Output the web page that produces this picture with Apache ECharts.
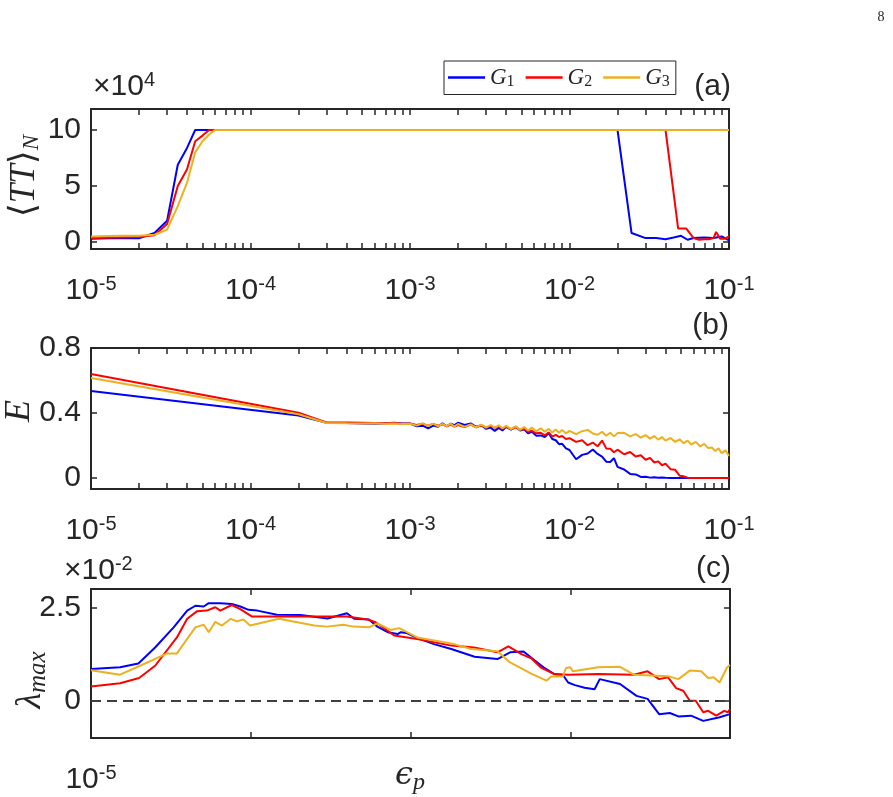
<!DOCTYPE html>
<html>
<head>
<meta charset="utf-8">
<script src="https://cdn.jsdelivr.net/npm/echarts@6/dist/echarts.min.js"></script>
<style>html,body{margin:0;padding:0;background:#fff;}#c{width:893px;height:797px;}</style>
</head>
<body>
<div id="c"></div>
<script>
// ---------------- DATA ----------------
const seriesNames = ['G1', 'G2', 'G3'];
const seriesColors = ['#0000FF', '#FF0000', '#EDB120'];

// tick values / labels
const decadeTicks = [1e-5, 1e-4, 1e-3, 1e-2, 1e-1];
const logMinorTicks = [1e-5,2e-5,3e-5,4e-5,5e-5,6e-5,7e-5,8e-5,9e-5,
  1e-4,2e-4,3e-4,4e-4,5e-4,6e-4,7e-4,8e-4,9e-4,
  1e-3,2e-3,3e-3,4e-3,5e-3,6e-3,7e-3,8e-3,9e-3,
  1e-2,2e-2,3e-2,4e-2,5e-2,6e-2,7e-2,8e-2,9e-2,1e-1];
const xLabelsC = [1e-5];
const yTicksA = [0, 5, 10];
const yTicksB = [0, 0.4, 0.8];
const yTicksC = [0, 2.5];

// Panel (a): <TT>_N  (units of 10^4)
const epsA_G1 = [1e-5,1.5e-5,2e-5,2.5e-5,3e-5,3.5e-5,4e-5,4.5e-5,1e-4,1e-3,1e-2,2e-2,2.45e-2,3e-2,3.5e-2,4e-2,4.5e-2,5e-2,5.5e-2,6e-2,7e-2,8e-2,9e-2,1e-1];
const tt_G1   = [0.3,0.35,0.33,0.8,1.9,6.9,8.4,10,10,10,10,10,0.8,0.35,0.35,0.25,0.4,0.55,0.2,0.35,0.4,0.35,0.5,0.15];
const epsA_G2 = [1e-5,1.5e-5,2e-5,2.5e-5,3e-5,3.5e-5,4e-5,4.5e-5,5e-5,5.5e-5,1e-4,1e-3,1e-2,4e-2,4.8e-2,5.4e-2,6e-2,6.5e-2,7e-2,7.5e-2,8e-2,8.3e-2,8.8e-2,9.4e-2,1e-1];
const tt_G2   = [0.35,0.4,0.45,0.6,1.6,5.0,6.5,9.0,9.5,10,10,10,10,10,1.2,1.2,0.35,0.2,0.25,0.25,0.35,0.9,0.3,0.3,0.5];
const epsA_G3 = [1e-5,1.5e-5,2e-5,2.5e-5,3e-5,3.5e-5,4e-5,4.5e-5,5e-5,5.5e-5,6e-5,1e-4,1e-3,1e-2,1e-1];
const tt_G3   = [0.5,0.55,0.55,0.65,1.1,3.2,5.3,8.0,9.0,9.6,10,10,10,10,10];

// Panel (b): E
const epsB = [1e-5,2e-4,3e-4,4e-4,5e-4,6e-4,7e-4,8e-4,9e-4,
  1.0e-3,1.1e-3,1.2e-3,1.3e-3,1.4e-3,1.5e-3,1.6e-3,1.7e-3,1.8e-3,1.9e-3,2.0e-3,2.2e-3,2.4e-3,2.6e-3,2.8e-3,3.0e-3,3.2e-3,3.4e-3,3.6e-3,3.8e-3,4.0e-3,4.3e-3,4.6e-3,4.9e-3,5.2e-3,5.5e-3,5.8e-3,6.2e-3,6.6e-3,7.0e-3,7.4e-3,7.8e-3,8.2e-3,8.6e-3,9.0e-3,9.5e-3,
  1.0e-2,1.1e-2,1.2e-2,1.3e-2,1.4e-2,1.5e-2,1.6e-2,1.7e-2,1.8e-2,1.9e-2,2.0e-2,2.2e-2,2.4e-2,2.6e-2,2.8e-2,3.0e-2,3.2e-2,3.4e-2,3.6e-2,3.8e-2,4.0e-2,4.3e-2,4.6e-2,4.9e-2,5.2e-2,5.5e-2,5.8e-2,6.2e-2,6.6e-2,7.0e-2,7.4e-2,7.8e-2,8.2e-2,8.6e-2,9.0e-2,9.5e-2,1.0e-1];
const E_G1 = [0.535,0.385,0.34,0.338,0.335,0.333,0.337,0.34,0.335,
  0.335,0.318,0.322,0.305,0.322,0.315,0.336,0.318,0.334,0.325,0.34,0.326,0.336,0.315,0.324,0.302,0.31,0.29,0.308,0.292,0.315,0.298,0.316,0.292,0.3,0.274,0.284,0.26,0.262,0.252,0.275,0.24,0.232,0.208,0.21,0.182,
  0.172,0.115,0.142,0.15,0.175,0.148,0.132,0.1,0.098,0.122,0.068,0.052,0.025,0.022,0.006,0.008,0.002,0.005,0.001,0.003,0.001,0,0,0,0,0,0,0,0,0,0,0,0,0,0,0,0];
const E_G2 = [0.64,0.402,0.342,0.342,0.34,0.338,0.336,0.338,0.333,
  0.336,0.326,0.334,0.322,0.332,0.322,0.33,0.318,0.328,0.316,0.326,0.314,0.328,0.312,0.324,0.31,0.322,0.308,0.318,0.304,0.316,0.3,0.312,0.298,0.302,0.285,0.29,0.275,0.278,0.262,0.28,0.255,0.265,0.252,0.258,0.24,
  0.245,0.222,0.232,0.202,0.218,0.195,0.23,0.182,0.18,0.158,0.174,0.146,0.16,0.132,0.14,0.112,0.124,0.095,0.102,0.078,0.088,0.054,0.05,0.014,0.01,0.002,0,0,0,0,0,0,0,0,0,0,0];
const E_G3 = [0.615,0.392,0.338,0.336,0.335,0.336,0.334,0.335,0.332,
  0.334,0.322,0.336,0.32,0.334,0.318,0.333,0.318,0.334,0.316,0.332,0.314,0.33,0.312,0.328,0.31,0.326,0.308,0.324,0.304,0.322,0.3,0.318,0.296,0.314,0.292,0.31,0.288,0.306,0.284,0.302,0.28,0.298,0.278,0.296,0.274,
  0.29,0.27,0.288,0.296,0.274,0.266,0.284,0.26,0.278,0.256,0.276,0.278,0.256,0.27,0.248,0.264,0.242,0.258,0.236,0.252,0.23,0.246,0.222,0.238,0.214,0.23,0.206,0.222,0.194,0.21,0.184,0.188,0.166,0.182,0.152,0.17,0.135];

// Panel (c): lambda_max (units of 10^-2)
const epsC_G1 = [1e-5,1.52e-5,1.98e-5,2.52e-5,3.29e-5,4e-5,4.5e-5,5.07e-5,5.46e-5,6.45e-5,7.6e-5,8.6e-5,9.7e-5,1.1e-4,1.46e-4,2.05e-4,3.02e-4,4e-4,4.44e-4,5.5e-4,6.2e-4,7.2e-4,8.3e-4,8.7e-4,9.4e-4,1.1e-3,1.4e-3,1.8e-3,2.52e-3,3.5e-3,4.2e-3,5.1e-3,6e-3,6.8e-3,7.9e-3,9e-3,9.7e-3,1.07e-2,1.23e-2,1.42e-2,1.53e-2,2.05e-2,2.6e-2,3.05e-2,3.6e-2,4.2e-2,4.75e-2,5.7e-2,6.8e-2,8.5e-2,1e-1];
const lam_G1  = [0.85,0.9,1.0,1.43,1.97,2.42,2.55,2.53,2.62,2.62,2.6,2.53,2.44,2.42,2.31,2.3,2.21,2.35,2.2,2.18,1.99,1.84,1.79,1.84,1.82,1.69,1.52,1.39,1.18,1.12,1.30,1.32,1.08,0.90,0.72,0.69,0.49,0.42,0.35,0.31,0.58,0.45,0.13,0.05,-0.36,-0.33,-0.42,-0.40,-0.54,-0.45,-0.36];
const epsC_G2 = [1e-5,1.52e-5,2e-5,2.52e-5,3.45e-5,4e-5,4.6e-5,5.3e-5,6e-5,6.45e-5,7.6e-5,8.6e-5,1.02e-4,4e-4,5.4e-4,6.1e-4,7.9e-4,1.1e-3,1.8e-3,2.5e-3,3.5e-3,4.1e-3,4.95e-3,5.7e-3,6.6e-3,7.9e-3,9.7e-3,1.5e-2,2.5e-2,3.05e-2,3.6e-2,4.1e-2,4.6e-2,5.1e-2,5.6e-2,6.1e-2,6.8e-2,7.3e-2,8.2e-2,9.2e-2,9.7e-2,1e-1];
const lam_G2  = [0.38,0.47,0.61,0.94,1.70,2.20,2.40,2.42,2.51,2.42,2.57,2.46,2.26,2.26,2.18,2.10,1.75,1.66,1.48,1.43,1.30,1.46,1.25,1.14,0.88,0.72,0.70,0.72,0.70,0.79,0.58,0.63,0.34,0.27,0.0,0.0,-0.31,-0.27,-0.40,-0.27,-0.31,-0.22];
const epsC_G3 = [1e-5,1.52e-5,2.03e-5,3e-5,3.45e-5,4.5e-5,5.07e-5,5.46e-5,6e-5,6.6e-5,7.5e-5,8.2e-5,9e-5,9.9e-5,1.5e-4,2.5e-4,3e-4,3.8e-4,4.4e-4,5.5e-4,6.2e-4,7.5e-4,8.5e-4,1.1e-3,1.8e-3,2.4e-3,3.5e-3,4.2e-3,5.7e-3,7.1e-3,7.6e-3,9e-3,9.4e-3,1e-2,1.04e-2,1.5e-2,2.05e-2,2.5e-2,4.1e-2,4.75e-2,5.6e-2,6.6e-2,7.3e-2,7.9e-2,8.6e-2,9.6e-2,1e-1];
const lam_G3  = [0.82,0.70,0.94,1.27,1.27,1.97,2.04,1.84,2.12,2.02,2.20,2.13,2.18,2.02,2.20,2.02,1.99,2.04,1.99,1.97,2.08,1.90,1.95,1.70,1.54,1.39,1.33,1.03,0.73,0.54,0.65,0.65,0.88,0.90,0.79,0.90,0.91,0.70,0.66,0.58,0.81,0.79,0.61,0.63,0.49,0.90,0.96];

// ---------------- CHART ----------------
const AX = '#262626';
const SANS = 'Liberation Sans, Arial, sans-serif';
const SERIF = 'Liberation Serif, DejaVu Serif, serif';
const chart = echarts.init(document.getElementById('c'), null, {renderer: 'canvas'});

const grids = [
  {left: 91, top: 109, width: 638, height: 140},
  {left: 91, top: 348, width: 638, height: 141},
  {left: 91, top: 589, width: 639, height: 149}
];
const yRanges = [[-0.625, 11.875], [-0.068, 0.8], [-1, 3]];
const yTicks = [yTicksA, yTicksB, yTicksC];

function powFmt(v) {
  const e = Math.round(Math.log(v) / Math.LN10);
  return '{b|10}{s|' + e + '}';
}
function xAxisDef(gi, pos, labelVals, tickVals) {
  return {
    type: 'log', logBase: 10, gridIndex: gi, position: pos, min: 1e-5, max: 1e-1,
    axisLine: {show: true, onZero: false, lineStyle: {color: AX, width: 2}},
    axisTick: {show: true, inside: true, length: 6, customValues: tickVals, lineStyle: {color: AX, width: 1.5}},
    axisLabel: labelVals ? {
      show: true, customValues: labelVals, margin: 25, formatter: powFmt,
      rich: {
        b: {fontSize: 30, fontFamily: SANS, color: AX},
        s: {fontSize: 20, fontFamily: SANS, color: AX, padding: [0, 0, 14, 0]}
      }
    } : {show: false},
    splitLine: {show: false}
  };
}
function yAxisDef(gi, pos, showLabels) {
  return {
    type: 'value', gridIndex: gi, position: pos, min: yRanges[gi][0], max: yRanges[gi][1],
    axisLine: {show: true, onZero: false, lineStyle: {color: AX, width: 2}},
    axisTick: {show: true, inside: true, length: 6, customValues: yTicks[gi], lineStyle: {color: AX, width: 1.5}},
    axisLabel: showLabels ? {show: true, customValues: yTicks[gi], margin: 10, fontSize: 30, fontFamily: SANS, color: AX,
      formatter: v => String(v)} : {show: false},
    splitLine: {show: false}
  };
}

const xAxes = [
  xAxisDef(0, 'bottom', decadeTicks, logMinorTicks), xAxisDef(0, 'top', null, logMinorTicks),
  xAxisDef(1, 'bottom', decadeTicks, logMinorTicks), xAxisDef(1, 'top', null, logMinorTicks),
  xAxisDef(2, 'bottom', xLabelsC, decadeTicks), xAxisDef(2, 'top', null, decadeTicks)
];
const yAxes = [
  yAxisDef(0, 'left', true), yAxisDef(0, 'right', false),
  yAxisDef(1, 'left', true), yAxisDef(1, 'right', false),
  yAxisDef(2, 'left', true), yAxisDef(2, 'right', false)
];

function pairs(xs, ys) { return xs.map((x, i) => [x, ys[i]]); }
function line(name, idx, axisIdx, data, extra) {
  return Object.assign({
    name: name, type: 'line', xAxisIndex: axisIdx, yAxisIndex: axisIdx,
    data: data, symbol: 'none', showSymbol: false, animation: false,
    color: seriesColors[idx], lineStyle: {color: seriesColors[idx], width: 2}
  }, extra || {});
}
const panelA = [[epsA_G1, tt_G1], [epsA_G2, tt_G2], [epsA_G3, tt_G3]];
const panelB = [E_G1, E_G2, E_G3];
const panelC = [[epsC_G1, lam_G1], [epsC_G2, lam_G2], [epsC_G3, lam_G3]];

const series = [];
panelA.forEach((d, i) => series.push(line(seriesNames[i], i, 0, pairs(d[0], d[1]))));
panelB.forEach((d, i) => series.push(line(seriesNames[i], i, 2, pairs(epsB, d))));
series.push({
  type: 'line', xAxisIndex: 4, yAxisIndex: 4, data: [], silent: true, animation: false,
  markLine: {silent: true, symbol: 'none', label: {show: false},
    lineStyle: {type: [10, 6], color: '#404040', width: 2}, data: [{yAxis: 0}]}
});
panelC.forEach((d, i) => series.push(line(seriesNames[i], i, 4, pairs(d[0], d[1]))));

function t(x, y, text, rich, align, rot) {
  return {type: 'text', x: x, y: y, rotation: rot || 0, silent: true,
    style: {text: text, rich: rich, align: align || 'left', verticalAlign: 'middle', fill: AX}};
}
const richPow = {
  t: {fontSize: 30, fontFamily: SANS, color: AX},
  s: {fontSize: 20, fontFamily: SANS, color: AX, padding: [0, 0, 14, 0]}
};
const richPanel = {p: {fontSize: 30, fontFamily: SANS, color: AX}};
const graphic = [
  t(881, 17, '{n|8}', {n: {fontSize: 14, fontFamily: SERIF, color: '#333'}}, 'center'),
  t(93, 87, '{t|\u00d710}{s|4}', richPow, 'left'),
  t(64, 571, '{t|\u00d710}{s|-2}', richPow, 'left'),
  t(731, 87, '{p|(a)}', richPanel, 'right'),
  t(729, 326, '{p|(b)}', richPanel, 'right'),
  t(731, 569, '{p|(c)}', richPanel, 'right'),
  t(25, 176, '{a|\u27e8}{i|TT}{a|\u27e9}{s|N}', {
    a: {fontSize: 36, fontFamily: 'DejaVu Serif, serif', color: AX},
    i: {fontSize: 35, fontFamily: SERIF, fontStyle: 'italic', color: AX},
    s: {fontSize: 23, fontFamily: SERIF, fontStyle: 'italic', color: AX, padding: [14, 0, 0, 0]}
  }, 'center', Math.PI / 2),
  t(20, 411, '{i|E}', {i: {fontSize: 36, fontFamily: SERIF, fontStyle: 'italic', color: AX}}, 'center', Math.PI / 2),
  t(31, 680, '{i|\u03bb}{s|max}', {
    i: {fontSize: 36, fontFamily: SERIF, fontStyle: 'italic', color: AX},
    s: {fontSize: 25, fontFamily: SERIF, fontStyle: 'italic', color: AX, padding: [14, 0, 0, 0]}
  }, 'center', Math.PI / 2),
  t(410, 776, '{i|\u03f5}{s|p}', {
    i: {fontSize: 32, fontFamily: 'DejaVu Serif, serif', fontStyle: 'italic', color: AX},
    s: {fontSize: 24, fontFamily: SERIF, fontStyle: 'italic', color: AX, padding: [14, 0, 0, 0]}
  }, 'center')
];

chart.setOption({
  animation: false,
  backgroundColor: '#ffffff',
  textStyle: {fontFamily: SANS},
  grid: grids,
  xAxis: xAxes,
  yAxis: yAxes,
  legend: {
    data: seriesNames, left: 444, top: 61, selectedMode: false,
    icon: 'rect', itemWidth: 37, itemHeight: 2.5, itemGap: 11,
    padding: [5, 6, 5, 4], borderColor: AX, borderWidth: 1, backgroundColor: '#fff',
    formatter: n => '{g|G}{s|' + n.slice(1) + '}',
    textStyle: {rich: {
      g: {fontSize: 23, fontFamily: SERIF, fontStyle: 'italic', color: AX},
      s: {fontSize: 16, fontFamily: SERIF, color: AX, padding: [8, 0, 0, 0]}
    }}
  },
  series: series,
  graphic: graphic
});
</script>
</body>
</html>
